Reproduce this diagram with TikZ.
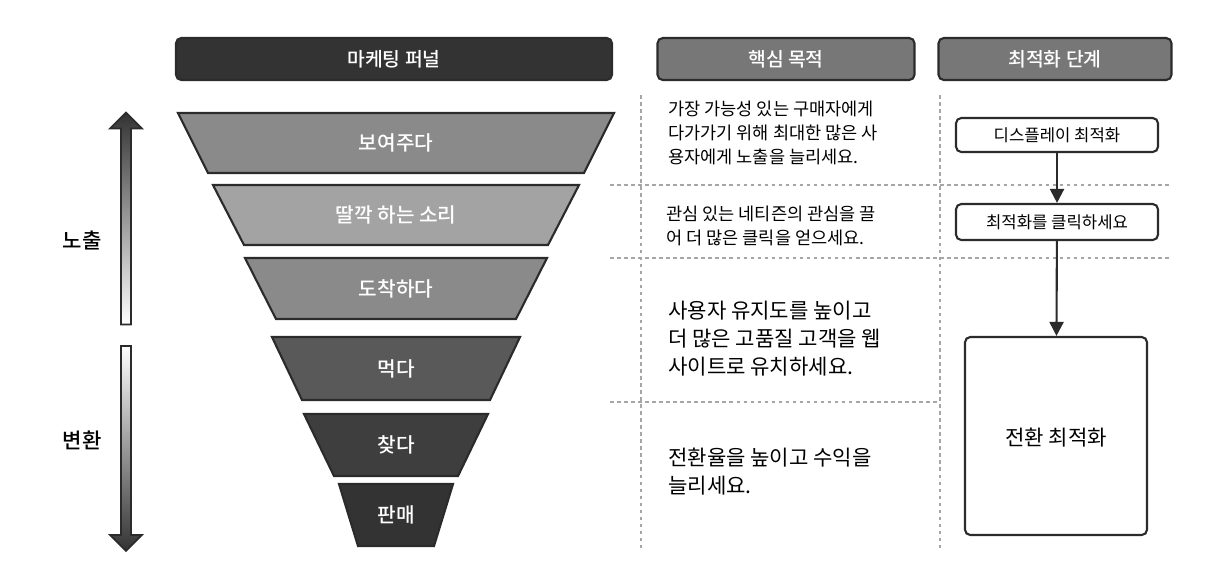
\documentclass[tikz,border=0pt]{standalone}
\usepackage{fontspec}
\setmainfont{Noto Sans CJK KR}
\newfontfamily\medfont{Noto Sans CJK KR Medium}
\usetikzlibrary{arrows.meta,shapes.arrows}
\definecolor{hdrdark}{HTML}{333333}
\definecolor{hdrgray}{HTML}{777777}
\definecolor{edge}{HTML}{2B2B2B}
\tikzset{
  header/.style={draw=edge, line width=1.2pt, rounded corners=3pt, text=white,
                 font=\medfont\fontsize{11}{13}\selectfont},
  layer/.style={draw=edge, line width=1.2pt},
  layertext/.style={text=white, font=\medfont\fontsize{11.5}{13}\selectfont},
  goal/.style={anchor=north west, align=left, text=black},
  optbox/.style={draw=edge, line width=1.2pt, rounded corners=3pt, fill=white,
               font=\fontsize{9.5}{11}\selectfont},
  sep/.style={draw=gray!70, line width=1pt, dash pattern=on 2pt off 2pt},
  flow/.style={-{Triangle[length=8pt,width=8pt]}, draw=edge, line width=1.2pt}
}
% funnel layer: #1 top y, #2 bottom y, #3 top half width, #4 bottom half width, #5 fill
\newcommand{\funnellayer}[5]{%
  \filldraw[layer, fill=#5] (396-#3,#1) -- (396+#3,#1) -- (396+#4,#2) -- (396-#4,#2) -- cycle;}
\begin{document}
\begin{tikzpicture}[x=0.02cm, y=-0.02cm]
\useasboundingbox (0,0) rectangle (1209,583);

% headers
\node[header, fill=hdrdark, minimum width=436*0.02cm, minimum height=42*0.02cm] (hfunnel) at (394,59) {마케팅 퍼널};
\node[header, fill=hdrgray, minimum width=257*0.02cm, minimum height=42*0.02cm] (hgoal) at (786,59) {핵심 목적};
\node[header, fill=hdrgray, minimum width=233*0.02cm, minimum height=42*0.02cm] (hstep) at (1055,59) {최적화 단계};

% separators
\draw[sep] (641,95) -- (641,548);
\draw[sep] (940,95) -- (940,548);
\draw[sep] (610,185) -- (1172,185);
\draw[sep] (610,258) -- (1172,258);
\draw[sep] (610,402) -- (940,402);

% funnel
\funnellayer{113}{173}{218}{188}{gray!92!white}
\funnellayer{185}{245}{183}{152}{gray!72!white}
\funnellayer{258}{319}{151}{120}{gray!92!white}
\funnellayer{337}{400}{124}{94}{hdrgray!75!black}
\funnellayer{414}{476}{92}{62}{hdrdark!85!gray}
\funnellayer{484}{546}{57}{38}{hdrdark}
\node[layertext] (l1) at (396,143) {보여주다};
\node[layertext] (l2) at (396,215) {딸깍 하는 소리};
\node[layertext] (l3) at (396,289) {도착하다};
\node[layertext] (l4) at (396,369) {먹다};
\node[layertext] (l5) at (396,445) {찾다};
\node[layertext] (l6) at (396,515) {판매};

% side arrows
\node[single arrow, shape border rotate=90, draw=edge, line width=1pt,
      top color=hdrdark, bottom color=white, minimum width=32*0.02cm,
      single arrow head extend=10*0.02cm, single arrow head indent=0pt,
      minimum height=212*0.02cm, inner sep=2pt] (up) at (126,221) {};
\node[single arrow, shape border rotate=270, draw=edge, line width=1pt,
      top color=white, bottom color=hdrdark, minimum width=32*0.02cm,
      single arrow head extend=10*0.02cm, single arrow head indent=0pt,
      minimum height=205*0.02cm, inner sep=2pt] (down) at (126,446) {};
\node[font=\medfont\fontsize{12}{14}\selectfont] (expo) at (82,240) {노출};
\node[font=\medfont\fontsize{12}{14}\selectfont] (conv) at (82,440) {변환};

% goals
\node[goal, font=\fontsize{10}{13.5}\selectfont] (g1) at (662,95) {가장 가능성 있는 구매자에게\\다가가기 위해 최대한 많은 사\\용자에게 노출을 늘리세요.};
\node[goal, font=\fontsize{10}{13.5}\selectfont] (g2) at (660,200) {관심 있는 네티즌의 관심을 끌\\어 더 많은 클릭을 얻으세요.};
\node[goal, font=\fontsize{12}{16}\selectfont] (g3) at (662,295) {사용자 유지도를 높이고\\더 많은 고품질 고객을 웹\\사이트로 유치하세요.};
\node[goal, font=\fontsize{12}{16}\selectfont] (g4) at (662,442) {전환율을 높이고 수익을\\늘리세요.};

% optimisation steps
\node[optbox, minimum width=202*0.02cm, minimum height=34*0.02cm] (s1) at (1057,135) {디스플레이 최적화};
\node[optbox, minimum width=202*0.02cm, minimum height=36*0.02cm] (s2) at (1057,222) {최적화를 클릭하세요};
\node[optbox, minimum width=182*0.02cm, minimum height=198*0.02cm] (s3) at (1056,436) {};
\node[font=\fontsize{12}{14}\selectfont] (s3t) at (1056,438) {전환 최적화};
\draw[flow] (s1) -- (s2);
\draw[flow] (s2) -- (s3);
\end{tikzpicture}
\end{document}
